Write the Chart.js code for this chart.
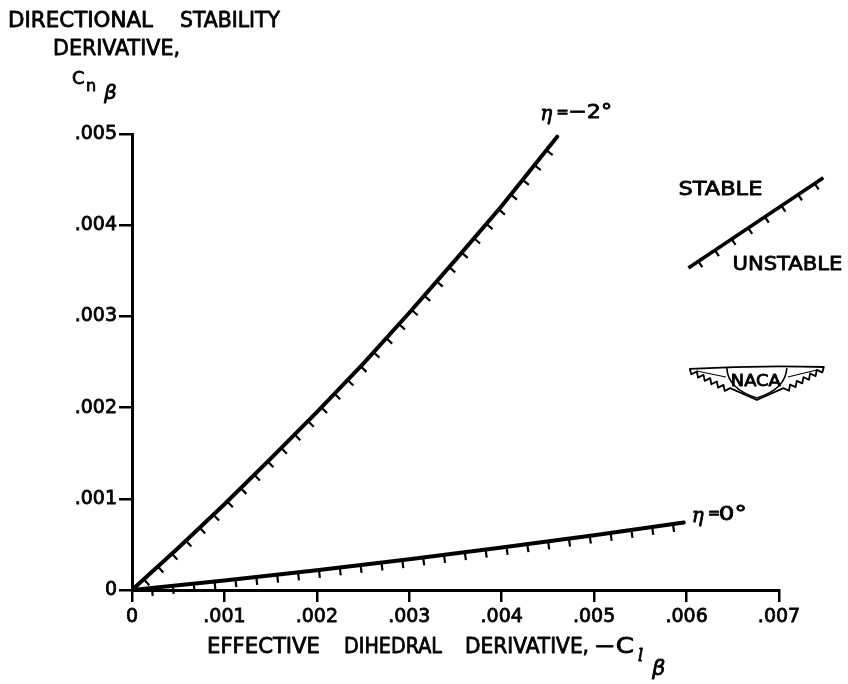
<!DOCTYPE html>
<html>
<head>
<meta charset="utf-8">
<title>Cn beta vs -Cl beta</title>
<style>
  html, body { margin: 0; padding: 0; background: #fff; }
  #wrap { width: 848px; height: 684px; position: relative; }
</style>
<script src="https://cdn.jsdelivr.net/npm/chart.js@4.4.1/dist/chart.umd.min.js"></script>
</head>
<body>
<div id="wrap"><canvas id="cnbeta"></canvas></div>
<script>
/* Directional stability derivative vs effective dihedral derivative,
   boundaries for eta = -2 deg and eta = 0 deg, hatched on the unstable side. */

// eta = -2 deg
const clBetaM2 = [0, 0.0005, 0.001, 0.0015, 0.002, 0.0025, 0.003, 0.0035, 0.004, 0.0046];
const cnBetaM2 = [0, 0.00046, 0.00094, 0.00144, 0.00195, 0.00248, 0.00304, 0.00362, 0.00421, 0.00497];

// eta = 0 deg
const clBeta0 = [0, 0.001, 0.002, 0.003, 0.004, 0.005, 0.00597];
const cnBeta0 = [0, 0.000104, 0.000217, 0.000337, 0.000465, 0.000601, 0.00074];

const xTicks = [0, 0.001, 0.002, 0.003, 0.004, 0.005, 0.006, 0.007];
const xTickLabels = ['0', '.001', '.002', '.003', '.004', '.005', '.006', '.007'];
const yTicks = [0, 0.001, 0.002, 0.003, 0.004, 0.005];
const yTickLabels = ['0', '.001', '.002', '.003', '.004', '.005'];

// key symbol (stable / unstable) and logo, in axis units
const keyLine = [[0.00602, 0.00353], [0.00748, 0.00452]];
const logoAt = [0.00676, 0.00227];

const INK = '#000';
const SANS = '"DejaVu Sans", "Liberation Sans", sans-serif';
const SERIF = '"DejaVu Serif", serif';

function zip(xs, ys) {
  return xs.map(function (x, i) { return { x: x, y: ys[i] }; });
}

// short strokes on the right-hand side of a polyline, every `gap` px
function hatch(ctx, pts, gap, len, start) {
  let carry = start;
  ctx.beginPath();
  for (let i = 1; i < pts.length; i++) {
    const a = pts[i - 1], b = pts[i];
    const dx = b.x - a.x, dy = b.y - a.y;
    const seg = Math.hypot(dx, dy);
    if (seg === 0) continue;
    const ux = dx / seg, uy = dy / seg;
    const nx = -uy, ny = ux;
    let d = carry;
    while (d <= seg) {
      const px = a.x + ux * d, py = a.y + uy * d;
      ctx.moveTo(px, py);
      ctx.lineTo(px + nx * len, py + ny * len);
      d += gap;
    }
    carry = d - seg;
  }
  ctx.stroke();
}

// lettering: filled and lightly stroked, optionally stretched to a width
function letter(ctx, text, x, y, w, font) {
  ctx.font = font;
  const m = ctx.measureText(text).width;
  ctx.save();
  ctx.translate(x, y);
  ctx.scale(w ? w / m : 1, 1);
  ctx.lineWidth = 0.8;
  ctx.lineJoin = 'round';
  ctx.fillText(text, 0, 0);
  ctx.strokeText(text, 0, 0);
  ctx.restore();
}

function drawLogo(ctx, cx, cy) {
  ctx.save();
  ctx.translate(cx, cy);
  ctx.lineWidth = 1.8;
  ctx.strokeStyle = INK;
  ctx.fillStyle = '#fff';
  ctx.lineJoin = 'round';

  // outer wing outline: flat top, feathered trailing edges meeting under the shield
  ctx.beginPath();
  ctx.moveTo(-67, -14);
  ctx.quadraticCurveTo(0, -18, 67, -16);
  const n = 12;
  for (let k = 1; k <= n; k++) {
    const t = k / n;
    const x = 67 + (27 - 67) * t, y = -16 + (6 + 16) * t;
    const off = (k % 2) ? 3.6 : -0.8;
    ctx.lineTo(x + off * 0.5, y + off);
  }
  ctx.lineTo(9, 13);
  ctx.lineTo(0, 17);
  ctx.lineTo(-9, 13);
  for (let k = n; k >= 1; k--) {
    const t = k / n;
    const x = -67 + (67 - 27) * t, y = -14 + (6 + 14) * t;
    const off = (k % 2) ? 3.6 : -0.8;
    ctx.lineTo(x - off * 0.5, y + off);
  }
  ctx.closePath();
  ctx.fill();
  ctx.stroke();

  // inner feather lines
  ctx.lineWidth = 1.2;
  ctx.beginPath();
  ctx.moveTo(-60, -12); ctx.lineTo(-31, -6);
  ctx.moveTo(60, -13); ctx.lineTo(31, -6);
  ctx.stroke();

  // shield
  ctx.lineWidth = 1.6;
  ctx.beginPath();
  ctx.moveTo(-30, -15);
  ctx.quadraticCurveTo(-29, 6, 0, 15);
  ctx.quadraticCurveTo(29, 6, 30, -15);
  ctx.stroke();

  ctx.fillStyle = INK;
  ctx.strokeStyle = INK;
  ctx.textAlign = 'left';
  ctx.textBaseline = 'middle';
  letter(ctx, 'NACA', -26, -1, 50, '16px ' + SANS);
  ctx.restore();
}

const decorations = {
  id: 'decorations',
  afterDatasetsDraw: function (chart) {
    const ctx = chart.ctx;
    const xs = chart.scales.x, ys = chart.scales.y;
    ctx.save();
    ctx.strokeStyle = INK;
    ctx.fillStyle = INK;
    ctx.lineCap = 'butt';

    // hatching on each boundary
    chart.data.datasets.forEach(function (ds, i) {
      const meta = chart.getDatasetMeta(i);
      const pts = meta.data.map(function (p) { return { x: p.x, y: p.y }; });
      ctx.lineWidth = 2.2;
      hatch(ctx, pts, ds.hatchGap, ds.hatchLen, ds.hatchStart);
    });

    // curve labels, placed off the end of each line
    ctx.textBaseline = 'middle';
    ctx.textAlign = 'left';
    const endM2 = chart.getDatasetMeta(0).data.slice(-1)[0];
    const end0 = chart.getDatasetMeta(1).data.slice(-1)[0];

    let lx = endM2.x - 17, ly = endM2.y - 24;
    letter(ctx, 'η', lx, ly + 2, 0, 'italic 20px ' + SERIF);
    letter(ctx, '=', lx + 16, ly, 0, '15px ' + SANS);
    letter(ctx, '−2°', lx + 28, ly, 44, '20px ' + SANS);

    lx = end0.x + 8; ly = end0.y - 8;
    letter(ctx, 'η', lx, ly + 2, 0, 'italic 20px ' + SERIF);
    letter(ctx, '=', lx + 16, ly, 0, '15px ' + SANS);
    letter(ctx, '0°', lx + 27, ly, 28, '20px ' + SANS);

    // stable / unstable key
    const k = keyLine.map(function (p) {
      return { x: xs.getPixelForValue(p[0]), y: ys.getPixelForValue(p[1]) };
    });
    ctx.lineWidth = 3.5;
    ctx.beginPath();
    ctx.moveTo(k[0].x, k[0].y);
    ctx.lineTo(k[1].x, k[1].y);
    ctx.stroke();
    ctx.lineWidth = 2.2;
    hatch(ctx, k, 20, 7, 12);
    letter(ctx, 'STABLE', k[0].x - 10, k[1].y + 12, 84, '20px ' + SANS);
    letter(ctx, 'UNSTABLE', k[0].x + 44, k[0].y - 3, 110, '20px ' + SANS);

    drawLogo(ctx, xs.getPixelForValue(logoAt[0]), ys.getPixelForValue(logoAt[1]));

    // axis titles
    const L = chart.chartArea.left, B = chart.chartArea.bottom;
    const T = chart.chartArea.top;
    letter(ctx, 'DIRECTIONAL', L - 124, T - 112, 145, '21px ' + SANS);
    letter(ctx, 'STABILITY', L + 48, T - 112, 100, '21px ' + SANS);
    letter(ctx, 'DERIVATIVE,', L - 79, T - 84, 127, '21px ' + SANS);
    letter(ctx, 'C', L - 60, T - 55, 0, '18px ' + SANS);
    letter(ctx, 'n', L - 46, T - 47, 0, '16px ' + SANS);
    letter(ctx, 'β', L - 28, T - 40, 0, 'italic 20px ' + SANS);

    letter(ctx, 'EFFECTIVE', L + 75, B + 58, 113, '21px ' + SANS);
    letter(ctx, 'DIHEDRAL', L + 212, B + 58, 98, '21px ' + SANS);
    letter(ctx, 'DERIVATIVE,', L + 333, B + 58, 124, '21px ' + SANS);
    letter(ctx, '−C', L + 462, B + 58, 40, '21px ' + SANS);
    letter(ctx, 'l', L + 506, B + 67, 0, 'italic 16px ' + SERIF);
    letter(ctx, 'β', L + 520, B + 80, 0, 'italic 21px ' + SANS);

    ctx.restore();
  }
};

new Chart(document.getElementById('cnbeta'), {
  type: 'scatter',
  data: {
    datasets: [
      {
        label: 'η = -2°',
        data: zip(clBetaM2, cnBetaM2),
        hatchGap: 19, hatchLen: 8, hatchStart: 16
      },
      {
        label: 'η = 0°',
        data: zip(clBeta0, cnBeta0),
        hatchGap: 21, hatchLen: 8, hatchStart: 20
      }
    ]
  },
  options: {
    responsive: true,
    maintainAspectRatio: false,
    animation: false,
    devicePixelRatio: 1,
    layout: { padding: { top: 134, right: 69, left: 0, bottom: 0 } },
    elements: {
      line: { borderColor: INK, borderWidth: 4, tension: 0, borderJoinStyle: 'round', borderCapStyle: 'round' },
      point: { radius: 0, hoverRadius: 0 }
    },
    datasets: { scatter: { showLine: true } },
    plugins: {
      legend: { display: false },
      tooltip: { enabled: false }
    },
    scales: {
      x: {
        type: 'linear',
        min: 0,
        max: 0.007,
        afterBuildTicks: function (s) { s.ticks = xTicks.map(function (v) { return { value: v }; }); },
        afterFit: function (s) { s.height = 94; },
        ticks: {
          color: INK,
          font: { size: 19, family: SANS },
          textStrokeColor: INK,
          textStrokeWidth: 0.8,
          padding: 4,
          maxRotation: 0,
          autoSkip: false,
          callback: function (v, i) { return xTickLabels[i]; }
        },
        grid: { drawOnChartArea: false, drawTicks: true, tickLength: 12, color: INK, lineWidth: 2.5 },
        border: { color: INK, width: 3 }
      },
      y: {
        type: 'linear',
        min: 0,
        max: 0.005,
        afterBuildTicks: function (s) { s.ticks = yTicks.map(function (v) { return { value: v }; }); },
        afterFit: function (s) { s.width = 132; },
        ticks: {
          color: INK,
          font: { size: 19, family: SANS },
          textStrokeColor: INK,
          textStrokeWidth: 0.8,
          padding: 2,
          autoSkip: false,
          callback: function (v, i) { return yTickLabels[i]; }
        },
        grid: { drawOnChartArea: false, drawTicks: true, tickLength: 13, color: INK, lineWidth: 2.5 },
        border: { color: INK, width: 3 }
      }
    }
  },
  plugins: [decorations]
});
</script>
</body>
</html>
